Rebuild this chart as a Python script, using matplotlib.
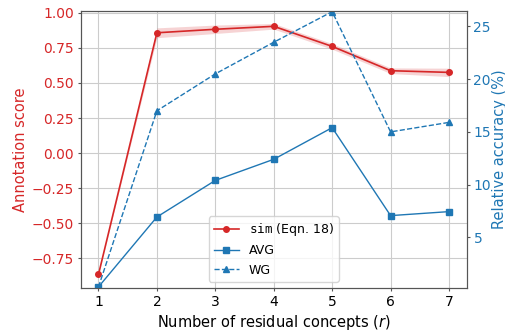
import matplotlib
matplotlib.use("Agg")
import matplotlib.pyplot as plt
import numpy as np

# values
r = [1, 2, 3, 4, 5, 6, 7]
sim_score = [-0.864, 0.857, 0.882, 0.903, 0.760, 0.587, 0.575]
sim_err = [0.0, 0.035, 0.030, 0.020, 0.020, 0.020, 0.030]
avg_acc = [0.3, 6.93, 10.4, 12.4, 15.4, 7.06, 7.44]
wg_acc = [0.3, 17.0, 20.5, 23.5, 26.4, 15.0, 15.9]

red = "tab:red"
blue = "tab:blue"

fig = plt.figure(figsize=(5.06, 3.31), dpi=100)
ax1 = fig.add_axes([0.160, 0.130, 0.762, 0.838])
ax2 = ax1.twinx()

sim = np.array(sim_score)
err = np.array(sim_err)
l1, = ax1.plot(r, sim, color=red, marker="o", markersize=4, linewidth=1.2,
               label=r"$\mathtt{sim}$ (Eqn. 18)")
ax1.fill_between(r, sim - err, sim + err, color=red, alpha=0.2, linewidth=0)

l2, = ax2.plot(r, avg_acc, color=blue, marker="s", markersize=4, linewidth=1.0,
               label="AVG")
l3, = ax2.plot(r, wg_acc, color=blue, marker="^", markersize=4, linewidth=1.0,
               linestyle="--", label="WG")

ax1.set_ylim(-0.96, 1.015)
ax1.set_yticks([-0.75, -0.5, -0.25, 0.0, 0.25, 0.5, 0.75, 1.0])
ax1.set_xlim(0.7, 7.3)
ax1.set_xticks(r)
ax2.set_ylim(0.2, 26.5)
ax2.set_yticks([5, 10, 15, 20, 25])

ax1.grid(True, color="#cccccc", linewidth=0.8)
ax1.set_axisbelow(True)

for ax in (ax1, ax2):
    for s in ax.spines.values():
        s.set_color("#555555")

ax1.set_xlabel("Number of residual concepts ($r$)", fontsize=10.5, labelpad=3)
ax1.set_ylabel("Annotation score", color=red, fontsize=10.5, labelpad=3)
ax2.set_ylabel("Relative accuracy (%)", color=blue, fontsize=10.5, labelpad=0.5)
ax1.tick_params(axis="y", labelcolor=red, labelsize=10, length=2.5, pad=2.5,
                color="#555555")
ax1.tick_params(axis="x", labelsize=10, length=2.5, pad=2.5, color="#555555")
ax2.tick_params(axis="y", labelcolor=blue, labelsize=10, length=2.5, pad=2.5,
                color="#555555")

ax2.legend(handles=[l1, l2, l3], loc="lower center", fontsize=9)

fig.savefig("out.png", dpi=100)
